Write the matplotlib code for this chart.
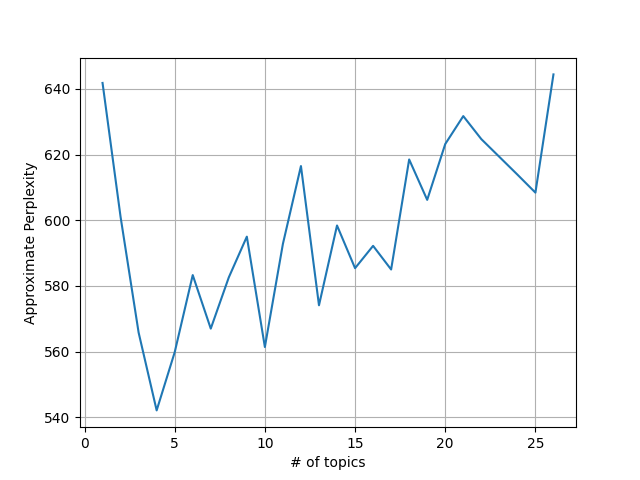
import matplotlib
matplotlib.use("Agg")
import matplotlib.pyplot as plt

topics = list(range(1, 27))
perplexity = [641.8, 601.0, 565.8, 542.1, 559.8, 583.3, 567.0, 582.6, 595.0,
              561.4, 592.8, 616.5, 574.1, 598.4, 585.4, 592.2, 585.0, 618.5,
              606.2, 623.2, 631.7, 624.7, 619.3, 613.9, 608.4, 644.4]

fig, ax = plt.subplots(figsize=(6.4, 4.8), dpi=100)
ax.plot(topics, perplexity)
ax.set_xlabel("# of topics")
ax.set_ylabel("Approximate Perplexity")
ax.grid(True)
fig.savefig("out.png")
